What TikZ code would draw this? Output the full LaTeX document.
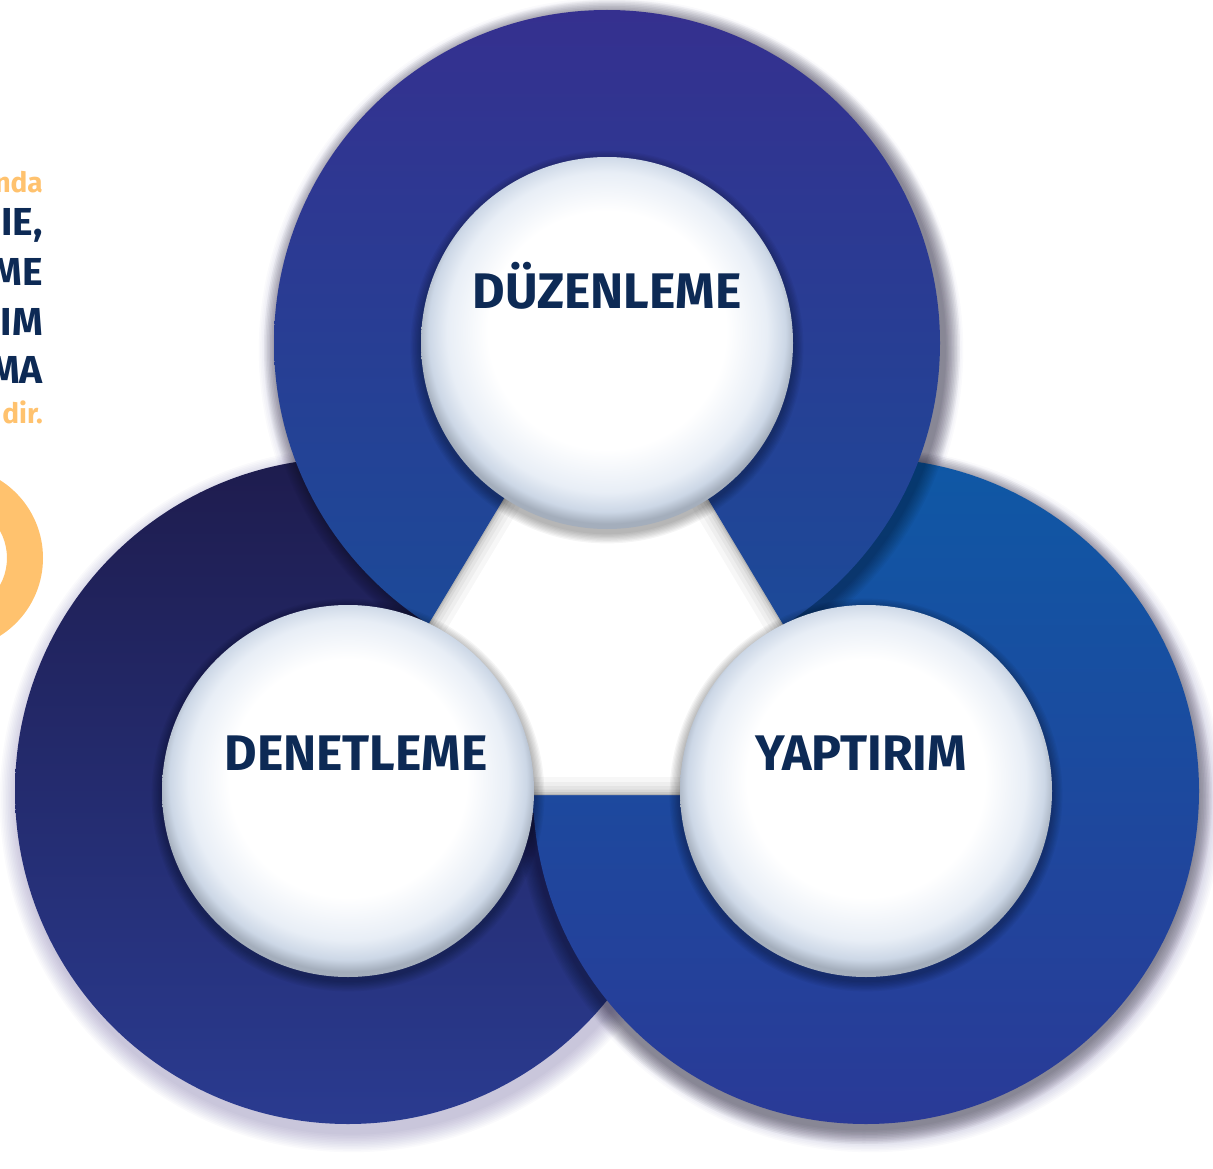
\documentclass[tikz,border=0pt]{standalone}
\usepackage{fontspec}
\setmainfont{Fira Sans}
\definecolor{navy}{HTML}{0D2A55}
\definecolor{orng}{HTML}{FFC26E}
\definecolor{topA}{HTML}{35308F}
\definecolor{topB}{HTML}{1A4C99}
\definecolor{leftA}{HTML}{1E1C4E}
\definecolor{leftB}{HTML}{2A3B90}
\definecolor{rightA}{HTML}{0F58A5}
\definecolor{rightB}{HTML}{2A3A97}
\definecolor{shadowc}{HTML}{3A2C80}
\definecolor{innerA}{HTML}{E8EEF6}
\definecolor{innerB}{HTML}{CCD7E6}
\definecolor{innerC}{HTML}{A4AEBC}
\pgfdeclareradialshading{innerdisc}{\pgfpoint{0bp}{2.5bp}}{color(0bp)=(white); color(16bp)=(white); color(21.5bp)=(innerA); color(24bp)=(innerB); color(25.5bp)=(innerC); color(50bp)=(innerC)}
\tikzset{
  ring/.style={circle, inner sep=0pt, outer sep=0pt, minimum size=666pt},
  hole/.style={circle, inner sep=0pt, outer sep=0pt, minimum size=372pt, shading=innerdisc},
  lbl/.style={font=\fontsize{50}{60}\selectfont\bfseries, text=navy, inner sep=0pt, anchor=base},
  sidetxt/.style={font=\fontsize{39}{42}\selectfont\bfseries, text=navy, inner sep=0pt, anchor=base east},
  sideorg/.style={font=\fontsize{28}{30}\selectfont\bfseries, text=orng, inner sep=0pt, anchor=base east}
}
\begin{document}
\begin{tikzpicture}[x=1pt,y=-1pt]
\useasboundingbox (0,0) rectangle (1213,1169);
\clip (0,0) rectangle (1213,1169);
\fill[white] (0,0) rectangle (1213,1169);

% side fragments
\node[sideorg] (s1) at (43,193) {nda};
\node[sidetxt] (s2) at (43,236) {IE,};
\node[sidetxt] (s3) at (43,285) {ME};
\node[sidetxt] (s4) at (43,335) {IM};
\node[sidetxt] (s5) at (43,383) {MA};
\node[sideorg] (s6) at (43,423) {dir.};
\fill[orng, even odd rule] (-49,558) circle[radius=92pt] circle[radius=56pt];

% outer soft shadows
\foreach \i in {1,...,12}{
  \fill[shadowc, opacity=0.022] (352,800) circle[radius=333pt+\i*1.6pt];
  \fill[shadowc, opacity=0.022] (870,800) circle[radius=333pt+\i*1.6pt];
  \fill[shadowc, opacity=0.022] (611,350) circle[radius=333pt+\i*1.6pt];
}

% left ring
\node[ring, top color=leftA, bottom color=leftB] (lring) at (348,791) {};
% shadow of right ring on left ring
\foreach \i in {1,...,10}{
  \fill[black, opacity=0.035] (864,796) circle[radius=333pt+\i*1.5pt];
}
\node[ring, top color=rightA, bottom color=rightB] (rring) at (866,791) {};
% shadow of top ring
\foreach \i in {1,...,10}{
  \fill[black, opacity=0.035] (612,348) circle[radius=333pt+\i*1.5pt];
}
\node[ring, top color=topA, bottom color=topB] (tring) at (607,343) {};

% central white triangle with inner shadow
\coordinate (t1) at (606,329);
\coordinate (t2) at (326,795);
\coordinate (t3) at (885,795);
\fill[white] (t1) -- (t2) -- (t3) -- cycle;
\begin{scope}
  \clip (t1) -- (t2) -- (t3) -- cycle;
  \foreach \w/\o in {36/0.03, 26/0.035, 18/0.04, 11/0.05, 6/0.07, 2/0.1}{
    \draw[black, opacity=\o, line width=\w pt, line join=miter] (t1) -- (t2) -- (t3) -- cycle;
  }
\end{scope}

% shadows of inner discs
\foreach \c in {(607,347),(348,795),(866,795)}{
  \foreach \i in {1,...,8}{
    \fill[black, opacity=0.04] \c circle[radius=186pt+\i*1.3pt];
  }
}

% inner discs
\node[hole] (thole) at (607,343) {};
\node[hole] (lhole) at (348,791) {};
\node[hole] (rhole) at (866,791) {};

% labels
\node[lbl] (tlabel) at (607,308) {DÜZENLEME};
\node[lbl] (llabel) at (356,770) {DENETLEME};
\node[lbl] (rlabel) at (861,770) {YAPTIRIM};
\end{tikzpicture}
\end{document}
